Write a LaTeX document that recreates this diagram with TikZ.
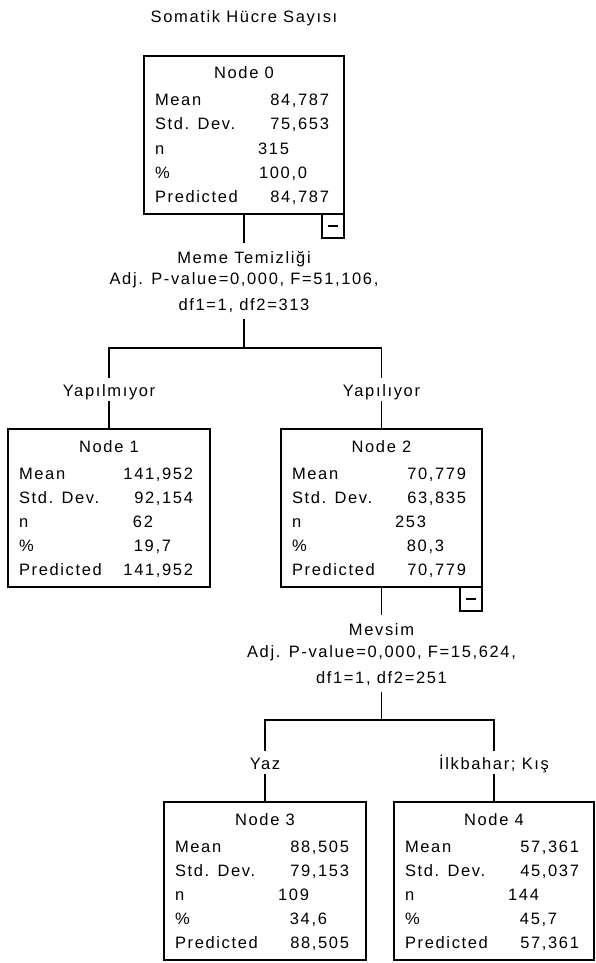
\documentclass[tikz,border=0pt]{standalone}
\usepackage{fontspec}
\setmainfont{Liberation Sans}[LetterSpace=10]
\usetikzlibrary{calc}
\newcommand{\spssnode}[9]{%
  \node[box, minimum width=#4pt] (#1) at (#2,#3) {};
  \node[txt] (#1-id) at ($(#1.north)+(0,23)$) {Node #5};
  \node[lab] (#1-l1) at ($(#1.north west)+(11,50)$) {Mean};
  \node[lab] (#1-l2) at ($(#1.north west)+(11,74)$) {Std. Dev.};
  \node[lab] (#1-l3) at ($(#1.north west)+(11,98)$) {n};
  \node[lab] (#1-l4) at ($(#1.north west)+(11,122)$) {\%};
  \node[lab] (#1-l5) at ($(#1.north west)+(11,146)$) {Predicted};
  \node[val] (#1-v1) at ($(#1.north west)+(185,50)$) {#6};
  \node[val] (#1-v2) at ($(#1.north west)+(185,74)$) {#7};
  \node[val] (#1-v3) at ($(#1.north west)+(145,98)$) {#8};
  \node[val] (#1-v4) at ($(#1.north west)+(163,122)$) {#9};
  \node[val] (#1-v5) at ($(#1.north west)+(185,146)$) {#6};
}
\newcommand{\minusbox}[1]{%
  \node[mbox] (#1-m) at (#1.south east) {};
  \draw[conn] ($(#1-m.center)+(-5,0)$) -- ($(#1-m.center)+(5,0)$);
}
\begin{document}
\begin{tikzpicture}[x=1pt,y=-1pt,
  txt/.style={font=\fontsize{16.5}{18}\selectfont, inner sep=0pt, outer sep=0pt, anchor=base, text=black},
  lab/.style={txt, anchor=base west},
  val/.style={txt, anchor=base east},
  box/.style={draw=black, line width=1.3pt, inner sep=0pt, outer sep=0pt, anchor=north west, minimum height=158pt},
  mbox/.style={draw=black, line width=1.3pt, inner sep=0pt, outer sep=0pt, anchor=north east, minimum width=22pt, minimum height=24pt},
  conn/.style={draw=black, line width=1.3pt},
  splittop/.style={txt, text height=19pt, inner ysep=1pt},
  splitbot/.style={txt, text depth=8pt, inner ysep=1pt},
  brlab/.style={txt, text height=17pt, text depth=4pt, inner ysep=1pt},
]
\fill[white] (0,0) rectangle (595,963);
\useasboundingbox (0,0) rectangle (595,963);

% title
\node[txt] (title) at (244,23) {Somatik Hücre Sayısı};

% nodes
\spssnode{n0}{144}{56}{200}{0}{84,787}{75,653}{315}{100,0}
\spssnode{n1}{8}{429}{202}{1}{141,952}{92,154}{62}{19,7}
\spssnode{n2}{281}{429}{201}{2}{70,779}{63,835}{253}{80,3}
\spssnode{n3}{164}{802}{202}{3}{88,505}{79,153}{109}{34,6}
\spssnode{n4}{394}{802}{200}{4}{57,361}{45,037}{144}{45,7}
\minusbox{n0}
\minusbox{n2}

% first split
\node[splittop] (s0a) at (244,263) {Meme Temizliği};
\node[txt] (s0b) at (244,284) {Adj. P-value=0,000, F=51,106,};
\node[splitbot] (s0c) at (244,310) {df1=1, df2=313};
\coordinate (h0) at (244,348);
\draw[conn] (n0.south) -- (s0a.north);
\draw[conn] (s0c.south) -- (h0);
\node[brlab] (b1) at (n1.north |- 0,396) {Yapılmıyor};
\node[brlab] (b2) at (n2.north |- 0,396) {Yapılıyor};
\draw[conn] (b1.north) |- (h0) -| (b2.north);
\draw[conn] (b1.south) -- (n1.north);
\draw[conn] (b2.south) -- (n2.north);

% second split
\node[splittop] (s1a) at (n2.south |- 0,635) {Mevsim};
\node[txt] (s1b) at (n2.south |- 0,657) {Adj. P-value=0,000, F=15,624,};
\node[splitbot] (s1c) at (n2.south |- 0,683) {df1=1, df2=251};
\coordinate (h1) at (n2.south |- 0,720);
\draw[conn] (n2.south) -- (s1a.north);
\draw[conn] (s1c.south) -- (h1);
\node[brlab] (b3) at (n3.north |- 0,769) {Yaz};
\node[brlab] (b4) at (n4.north |- 0,769) {İlkbahar; Kış};
\draw[conn] (b3.north) |- (h1) -| (b4.north);
\draw[conn] (b3.south) -- (n3.north);
\draw[conn] (b4.south) -- (n4.north);
\end{tikzpicture}
\end{document}
